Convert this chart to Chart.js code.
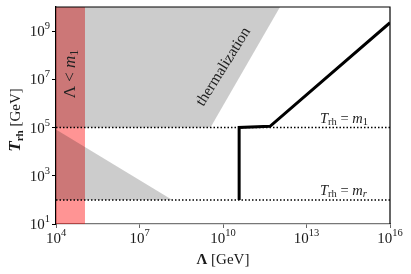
<!DOCTYPE html>
<html><head><meta charset="utf-8">
<script src="https://cdn.jsdelivr.net/npm/chart.js@4/dist/chart.umd.min.js"></script>
<style>html,body{margin:0;padding:0;background:#fff}</style>
</head><body>
<canvas id="c" width="411" height="274"></canvas>
<script>
// ---- data ----
const xTicks = [1e4, 1e7, 1e10, 1e13, 1e16];
const xTickExp = ['4', '7', '10', '13', '16'];
const yTicks = [1e1, 1e3, 1e5, 1e7, 1e9];
const yTickExp = ['1', '3', '5', '7', '9'];
const m1 = 1e5;            // T_rh = m_1
const mr = 1e2;            // T_rh = m_r
const redBandX = [1e4, 1.1e5];           // Lambda < m_1
const thermX = [1e4, 10 ** 9.55, 10 ** 12.05];  // thermalization boundary
const thermY = [1e5, 1e5, 1e10];
const lowTriX = [1e4, 10 ** 8.17];
const lowTriY = [10 ** 4.92, 1e2];
const curveX = [10 ** 10.58, 10 ** 10.58, 10 ** 11.69, 1e16];
const curveY = [1e2, 10 ** 5.0, 10 ** 5.05, 10 ** 9.35];

const XMIN = 1e4, XMAX = 1e16, YMIN = 1e1, YMAX = 1e10;
const pts = (xs, ys) => xs.map((x, i) => ({x, y: ys[i]}));
const SERIF = '"Liberation Serif", "DejaVu Serif", serif';

function drawRuns(ctx, parts, x, y, align) {
  let w = 0;
  parts.forEach(p => { ctx.font = p.font; p.w = ctx.measureText(p.t).width; w += p.w; });
  let cx = align === 'center' ? x - w / 2 : (align === 'right' ? x - w : x);
  ctx.textAlign = 'left';
  ctx.textBaseline = 'alphabetic';
  parts.forEach(p => { ctx.font = p.font; ctx.fillText(p.t, cx, y + (p.dy || 0)); cx += p.w; });
}

const overlay = {
  id: 'overlay',
  afterDraw(chart) {
    const ctx = chart.ctx, a = chart.chartArea;
    const xs = chart.scales.x, ys = chart.scales.y;
    ctx.save();
    // top & right spines
    ctx.strokeStyle = '#000'; ctx.lineWidth = 1.2;
    ctx.beginPath();
    ctx.moveTo(a.left, a.top); ctx.lineTo(a.right, a.top); ctx.lineTo(a.right, a.bottom);
    ctx.stroke();
    ctx.fillStyle = '#1a1a1a';
    // x tick labels
    xTicks.forEach((v, i) => {
      const px = xs.getPixelForValue(v);
      drawRuns(ctx, [{t: '10', font: '15px ' + SERIF}, {t: xTickExp[i], font: '10.5px ' + SERIF, dy: -7}], px, 243, 'center');
    });
    // y tick labels
    yTicks.forEach((v, i) => {
      const py = ys.getPixelForValue(v);
      drawRuns(ctx, [{t: '10', font: '15px ' + SERIF, dy: 5}, {t: yTickExp[i], font: '10.5px ' + SERIF, dy: -2}], 50, py, 'right');
    });
    // x title
    drawRuns(ctx, [{t: 'Λ', font: 'bold 15px ' + SERIF}, {t: ' [GeV]', font: '15px ' + SERIF}], (a.left + a.right) / 2, 264, 'center');
    // y title
    ctx.save();
    ctx.translate(20, 120); ctx.rotate(-Math.PI / 2);
    drawRuns(ctx, [{t: 'T', font: 'italic bold 17px ' + SERIF}, {t: 'rh', font: 'bold 11px ' + SERIF, dy: 3}, {t: ' [GeV]', font: '15px ' + SERIF}], 0, 0, 'center');
    ctx.restore();
    // Lambda < m1
    ctx.save();
    ctx.fillStyle = '#222';
    ctx.translate(75, 74); ctx.rotate(-Math.PI / 2);
    drawRuns(ctx, [{t: 'Λ < ', font: '17px ' + SERIF}, {t: 'm', font: 'italic 17px ' + SERIF}, {t: '1', font: '12px ' + SERIF, dy: 3}], 0, 0, 'center');
    ctx.restore();
    // thermalization
    ctx.save();
    ctx.fillStyle = '#222';
    ctx.translate(227, 69); ctx.rotate(-58 * Math.PI / 180);
    drawRuns(ctx, [{t: 'thermalization', font: '15.5px ' + SERIF}], 0, 0, 'center');
    ctx.restore();
    // T_rh = m_1 / m_r
    ctx.fillStyle = '#222';
    const lab = (sub, y) => drawRuns(ctx, [
      {t: 'T', font: 'italic 14.5px ' + SERIF}, {t: 'rh', font: '10.5px ' + SERIF, dy: 2},
      {t: ' = ', font: '14.5px ' + SERIF}, {t: 'm', font: 'italic 14.5px ' + SERIF},
      {t: sub, font: (sub === 'r' ? 'italic ' : '') + '10.5px ' + SERIF, dy: 2}], 320, y, 'left');
    lab('1', ys.getPixelForValue(m1) - 5);
    lab('r', ys.getPixelForValue(mr) - 5);
    ctx.restore();
  }
};

new Chart(document.getElementById('c'), {
  type: 'scatter',
  data: {
    datasets: [
      {data: pts(redBandX, [YMAX, YMAX]), showLine: true, fill: 'start', backgroundColor: 'rgba(255,0,0,0.42)', borderColor: 'transparent', borderWidth: 0, pointRadius: 0, order: 10},
      {data: pts(thermX, thermY), showLine: true, fill: 'end', backgroundColor: 'rgba(0,0,0,0.2)', borderColor: 'transparent', borderWidth: 0, pointRadius: 0, order: 5},
      {data: pts(lowTriX, lowTriY), showLine: true, fill: {value: mr}, backgroundColor: 'rgba(0,0,0,0.2)', borderColor: 'transparent', borderWidth: 0, pointRadius: 0, order: 5},
      {data: pts([XMIN, XMAX], [m1, m1]), showLine: true, fill: false, borderColor: '#000', borderWidth: 1.5, borderDash: [1.5, 2], pointRadius: 0, order: 2},
      {data: pts([XMIN, XMAX], [mr, mr]), showLine: true, fill: false, borderColor: '#000', borderWidth: 1.5, borderDash: [1.5, 2], pointRadius: 0, order: 2},
      {data: pts(curveX, curveY), showLine: true, fill: false, borderColor: '#000', borderWidth: 3, borderJoinStyle: 'miter', pointRadius: 0, order: 1}
    ]
  },
  options: {
    responsive: false, animation: false, devicePixelRatio: 1,
    layout: {padding: {top: 7, right: 21, left: 0, bottom: 0}},
    plugins: {legend: {display: false}, tooltip: {enabled: false}},
    scales: {
      x: {type: 'logarithmic', min: XMIN, max: XMAX,
        afterBuildTicks: s => { s.ticks = xTicks.map(v => ({value: v})); },
        afterFit: s => { s.height = 50; },
        ticks: {display: false},
        grid: {drawOnChartArea: false, drawTicks: true, tickLength: 4, color: '#666', lineWidth: 1},
        border: {display: true, color: '#777', width: 1.3}},
      y: {type: 'logarithmic', min: YMIN, max: YMAX,
        afterBuildTicks: s => { s.ticks = yTicks.map(v => ({value: v})); },
        afterFit: s => { s.width = 56; },
        ticks: {display: false},
        grid: {drawOnChartArea: false, drawTicks: true, tickLength: 4, color: '#000', lineWidth: 1},
        border: {display: true, color: '#000', width: 1.3}}
    }
  },
  plugins: [overlay]
});
</script>
</body></html>
